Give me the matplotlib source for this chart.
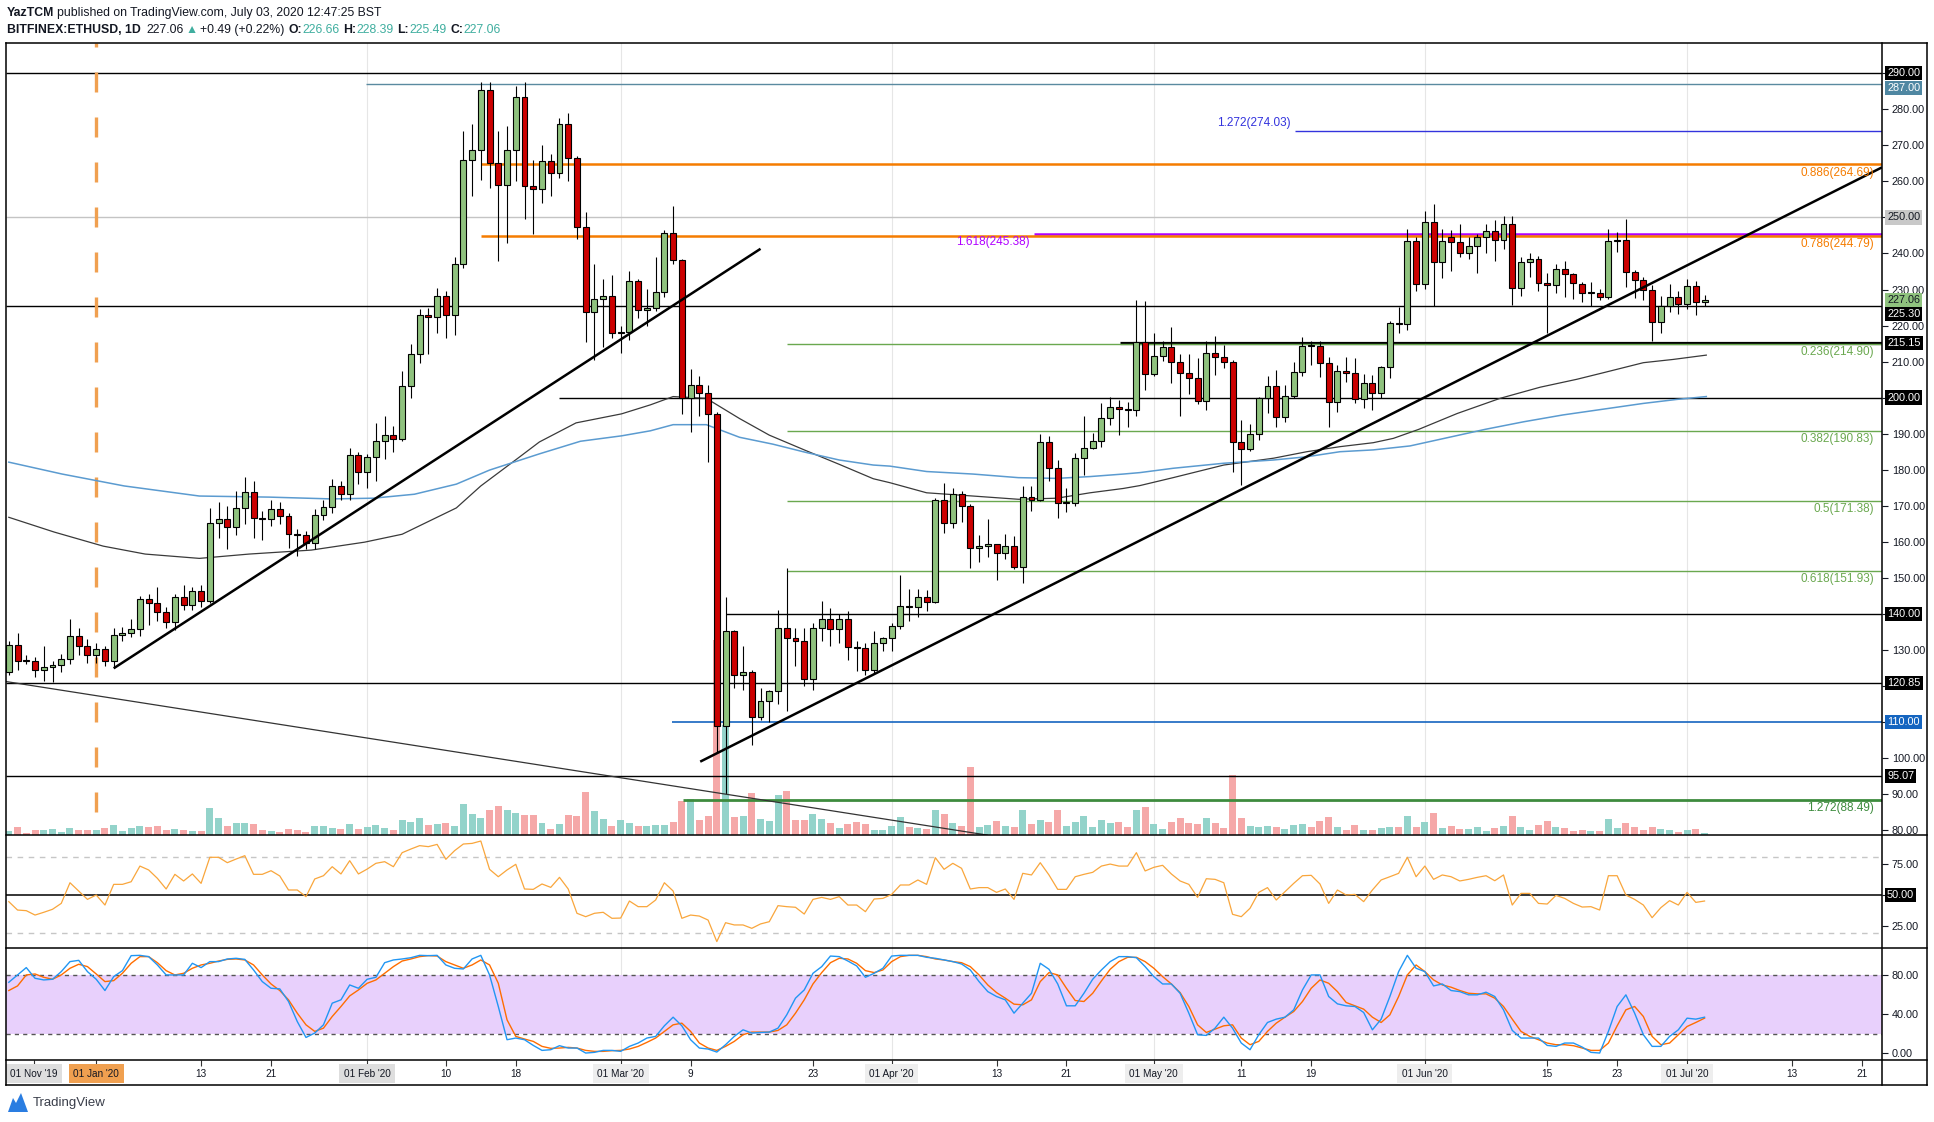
import matplotlib
matplotlib.use('Agg')
import matplotlib.pyplot as plt
from matplotlib.transforms import blended_transform_factory as blend
from matplotlib.lines import Line2D
from matplotlib.patches import Polygon
import numpy as np
import pandas as pd

SANS = ['Liberation Sans', 'DejaVu Sans']
plt.rcParams['font.family'] = SANS

# ---------------------------------------------------------------- data
dates = pd.date_range('2019-12-22', '2020-07-03', freq='D')

opens = [
    124, 131.5, 127, 126.9, 124.3, 125.2, 125.8, 127.5, 133.9, 131.1,
    128.5, 130.2, 126.8, 134.2, 134.6, 135.8, 144.2, 143.1, 140.6, 137.7,
    144.7, 142.4, 146.4, 143.5, 165.2, 166.3, 164.2, 169.4, 173.9, 166.7,
    166.3, 169.2, 167.1, 162.1, 161.9, 159.6, 167.4, 169.7, 175.5, 173.2, 184.1,
    179.4, 183.6, 188, 189.7, 188.6, 203.3, 212.2, 223, 222.3, 228.3,
    223, 237.2, 265.8, 268.6, 285.4, 265, 259.1, 268.6, 283.4, 258.7,
    257.8, 265.6, 262.2, 275.8, 266.4, 247.4, 223.9, 227.4, 228.3,
    218, 218.3, 232.5, 224.3, 225, 229.2, 245.7, 238.2, 200, 203.5,
    201.2, 195.4, 108.9, 135.3, 123.1, 124, 111.3, 115.9, 118.5, 136.2,
    133.2, 132.6, 122, 136.2, 138.5, 135.8, 138.5, 130.9, 130.6, 124.5, 131.8,
    133.2, 136.7, 142.1, 142, 144.8, 143.2, 171.6, 165.1, 173.2, 170,
    158.2, 158.7, 159.3, 156.8, 158.7, 153.1, 172.5, 171.6, 187.8, 180.6,
    170.8, 170.9, 183.2, 186, 188, 194.3, 197.5, 196.8, 196.6, 215.5,
    206.5, 211.6, 214, 209.8, 206.8, 205.4, 199.1, 212.3, 211.4, 210,
    187.8, 185.7, 189.8, 199.8, 203.3, 194.5, 200.4, 207, 214.4, 214.3,
    209.6, 198.7, 207.5, 206.8, 199.5, 204, 201.2, 208.6, 220.6, 220.5, 243.5,
    231.4, 248.6, 237.5, 244.5, 243.3, 240, 242, 244.7, 246.3, 243.7,
    248.3, 230.3, 237.5, 238.4, 231.7, 231.2, 235.6, 234.2, 231.5, 228.9,
    229.1, 227.8, 243.5, 243.7, 234.8, 232.6, 229.9, 221.1, 225.3, 228,
    225.9, 231.1, 226.66]

highs = [
    132.5, 134.6, 128.5, 128, 131, 127, 129, 138.7, 136, 133,
    132, 131, 136, 136.5, 138.5, 145, 145.5, 147.5, 142, 145.5,
    148, 147.5, 148, 169.5, 171, 170, 174, 178, 177, 168.5,
    171.5, 171, 168, 163.5, 163, 169, 171.5, 177.5, 177, 186, 185,
    184.5, 193, 195, 192, 207.5, 215, 224.5, 225, 230.5, 229.5,
    239, 274, 276, 287.5, 287.5, 274, 275.5, 286.5, 287.5, 266,
    270, 267.5, 277.5, 279, 267, 251.5, 237, 233, 234,
    220, 235, 233, 230.2, 239.1, 246.5, 253.2, 238.5, 208, 206,
    203.5, 196, 144.8, 135.5, 131, 124.5, 119.5, 119, 141, 152.6,
    136, 136, 137.5, 143.5, 141.5, 140, 140.7, 132.5, 131.8, 135.3, 133.5,
    137.4, 150.7, 146.9, 146.8, 146.6, 172.2, 176.2, 174.8, 174.1, 170.5,
    161.8, 166.3, 159.5, 162.1, 161.7, 175.4, 175.4, 190, 189.3, 182.6,
    174.9, 184.7, 194.9, 190.3, 198.4, 200.3, 199.3, 198.7, 227, 226.7,
    218, 215.6, 219.6, 212, 212, 210.9, 215.8, 217, 214.6, 210.5,
    193.7, 192.7, 200.2, 206.1, 207.7, 203.6, 209.9, 216.8, 215.6, 215.6,
    211.4, 209.1, 211.2, 211.1, 206.6, 206.3, 208.8, 221.4, 225.1, 246.9, 244.5,
    251.7, 253.7, 246.9, 246.4, 248.3, 244.5, 245.4, 248.3, 249.3, 250.4,
    250.4, 238.9, 240.1, 239.4, 234.6, 237.1, 237.9, 234.7, 232.2, 232,
    230.2, 246.9, 245.9, 249.5, 235.5, 233.5, 231.2, 228.2, 231.4, 229.7,
    233, 232.3, 228.39]

lows = [
    123, 124.5, 126, 122.5, 121.5, 121, 124, 126, 128.5, 126.5,
    126.5, 125.5, 125, 132.5, 133.5, 134, 137, 138, 136, 135.5,
    141, 141, 142, 143, 161, 158, 162, 165, 161, 160.5,
    164.5, 165, 158.2, 156, 158, 158, 166, 168, 171.5, 171.5, 176,
    175, 177, 183, 185, 188, 200, 209.5, 212, 218, 216.5,
    217.5, 236, 256, 260.5, 258.3, 237.8, 243, 260, 249.5, 245.5,
    254, 256, 261, 260, 244, 215.5, 210.5, 214, 216.5,
    212.5, 216, 222, 220, 224, 227.8, 237.2, 195.5, 190.4, 195,
    182.2, 101.7, 90, 119.5, 119, 103.5, 110.5, 110, 115, 113,
    125.6, 120, 119, 132.4, 131.2, 132, 127.2, 124.2, 123, 123.4, 129.7,
    129.7, 135.9, 138.1, 139.2, 140.8, 143, 162.5, 163.8, 165.4, 152.8,
    154.5, 155.8, 149.5, 155.3, 152.5, 148.7, 168.6, 171.2, 177, 166.7,
    168.3, 169.8, 178.6, 185.8, 186.4, 192.4, 189.5, 191.9, 195, 202.2,
    206, 210.3, 204.2, 195, 201, 198.2, 196.7, 206.4, 208.3, 179.4,
    175.9, 185.2, 188.3, 195.8, 191.8, 193.3, 199.9, 206, 209.1, 205.8,
    191.8, 196.1, 204.3, 198.6, 197.2, 196.5, 200, 205.5, 217.9, 218.7, 229.7,
    230.2, 225.3, 233.2, 235.1, 238.9, 238.6, 234.6, 240.1, 237.9, 241.3,
    225.8, 228.3, 233.6, 229.7, 217.8, 228.9, 227.9, 227.4, 226.4, 225.3,
    227, 227.3, 240.3, 230.8, 227.6, 227.2, 215.8, 217.8, 223.8, 223.2,
    224.7, 222.8, 225.49]

closes = [
    131.5, 127, 126.9, 124.3, 125.2, 125.8, 127.5, 133.9, 131.1, 128.5,
    130.2, 126.8, 134.2, 134.6, 135.8, 144.2, 143.1, 140.6, 137.7, 144.7,
    142.4, 146.4, 143.5, 165.2, 166.3, 164.2, 169.4, 173.9, 166.7, 166.3,
    169.2, 167.1, 162.1, 161.9, 159.6, 167.4, 169.7, 175.5, 173.2, 184.1, 179.4,
    183.6, 188, 189.7, 188.6, 203.3, 212.2, 223, 222.3, 228.3, 223,
    237.2, 265.8, 268.6, 285.4, 265, 259.1, 268.6, 283.4, 258.7, 257.8,
    265.6, 262.2, 275.8, 266.4, 247.4, 223.9, 227.4, 228.3, 218,
    218.3, 232.5, 224.3, 225, 229.2, 245.7, 238.2, 200, 203.5, 201.2,
    195.4, 108.9, 135.3, 123.1, 124, 111.3, 115.9, 118.5, 136.2, 133.2,
    132.6, 122, 136.2, 138.5, 135.8, 138.5, 130.9, 130.6, 124.5, 131.8, 133.2,
    136.7, 142.1, 142, 144.8, 143.2, 171.6, 165.1, 173.2, 170, 158.2,
    158.7, 159.3, 156.8, 158.7, 153.1, 172.5, 171.6, 187.8, 180.6, 170.8,
    170.9, 183.2, 186, 188, 194.3, 197.5, 196.8, 196.6, 215.5, 206.5,
    211.6, 214, 209.8, 206.8, 205.4, 199.1, 212.3, 211.4, 210, 187.8,
    185.7, 189.8, 199.8, 203.3, 194.5, 200.4, 207, 214.4, 214.3, 209.6,
    198.7, 207.5, 206.8, 199.5, 204, 201.2, 208.6, 220.6, 220.5, 243.5, 231.4,
    248.6, 237.5, 243.5, 243.3, 240, 242, 244.7, 246.3, 243.7, 248.3,
    230.3, 237.5, 238.4, 231.7, 231.2, 235.6, 234.2, 231.7, 228.9, 229.1,
    227.8, 243.5, 243.7, 234.8, 232.6, 229.9, 221.1, 225.3, 228, 225.9,
    231.1, 226.66, 227.06]

volumes = [
    4, 8, 2, 5, 5, 6, 3, 7, 5, 5,
    5, 7, 10, 4, 7, 9, 8, 9, 5, 6,
    5, 4, 4, 27, 17, 9, 12, 12, 11, 5,
    4, 3, 6, 5, 3, 9, 9, 7, 6, 11,
    6, 8, 10, 7, 5, 15, 13, 17, 10, 11,
    12, 9, 31, 21, 17, 25, 29, 25, 22, 20,
    20, 12, 6, 11, 20, 19, 43, 24, 16, 9,
    15, 12, 9, 9, 10, 10, 13, 34, 36, 15,
    19, 195, 110, 18, 19, 42, 16, 14, 40, 44,
    15, 15, 21, 16, 12, 7, 11, 13, 11, 5,
    5, 9, 18, 8, 7, 6, 25,
    21, 12, 9, 68, 8, 10, 14, 9, 8, 25,
    11, 15, 13, 25, 9, 13, 19, 8, 15, 12,
    13, 8, 25, 28, 11, 6, 13, 17, 12, 11,
    17, 12, 7, 60, 17, 9, 8, 9, 8, 6,
    10, 11, 8, 14, 18, 8, 5, 10, 5, 5,
    7, 8, 8, 19, 8, 13, 22, 7, 9, 6,
    6, 8, 4, 7, 9, 19, 8, 5, 10, 14,
    8, 7, 4, 5, 4, 4, 16, 7, 12, 8,
    5, 8, 6, 5, 3, 5, 6, 2]

rsi_values = [
    44.7, 38.0, 37.5, 34.0, 36.2, 38.6, 43.3, 59.8, 53.2, 46.5,
    50.0, 42.0, 58.5, 58.5, 60.6, 73.1, 70.0, 63.3, 54.8, 66.5,
    61.2, 66.8, 59.3, 80.1, 80.1, 75.8, 78.7, 81.4, 66.5, 66.5,
    69.4, 65.2, 54.0, 54.0, 48.7, 62.8, 65.4, 72.6, 66.8, 77.4,
    66.8, 70.7, 75.3, 76.6, 72.6, 83.8, 86.7, 89.4, 88.6, 90.4,
    78.5, 85.4, 90.7, 91.2, 93.1, 70.5, 64.6, 70.0, 74.5, 54.8,
    54.5, 58.8, 56.1, 64.1, 54.8, 35.4, 32.7, 35.4, 36.2, 31.4,
    31.6, 45.2, 40.7, 40.7, 46.0, 59.8, 53.2, 31.4, 34.0, 33.2,
    30.0, 12.8, 27.9, 26.1, 26.1, 23.4, 26.9, 28.7, 41.5, 40.7,
    40.2, 34.8, 46.5, 48.1, 46.5, 48.7, 42.0, 42.0, 36.7, 46.8,
    47.3, 50.5, 58.0, 58.0, 62.0, 58.5, 79.8,
    70.5, 75.3, 71.3, 54.8, 55.9, 55.9, 52.1, 54.8, 46.5, 67.3,
    66.0, 75.8, 66.0, 54.5, 54.5, 64.6, 66.5, 68.1, 73.1, 74.7,
    73.1, 73.1, 83.8, 69.2, 72.1, 73.7, 66.8, 61.2, 58.5, 48.1,
    63.0, 62.5, 59.8, 34.6, 32.7, 39.4, 52.1, 55.9, 46.0, 52.7,
    59.3, 65.4, 65.7, 58.8, 43.3, 54.0, 50.0, 50.5, 44.7, 54.0,
    62.0, 64.6, 67.3, 80.1, 64.6, 73.1, 62.5, 66.0, 64.6, 61.2,
    62.5, 64.1, 65.4, 61.4, 66.0, 42.0, 51.3, 51.3, 43.3, 42.8,
    49.7, 47.3, 43.3, 40.4, 40.7, 38.0, 65.4, 65.4, 50.0, 46.5,
    42.0, 31.9, 39.9, 45.5, 42.0, 52.1, 44.1, 45.2]

stoch_k = [
    72.5, 80.0, 87.5, 76.6, 74.9, 75.6, 83.4, 93.6, 94.9, 83.4,
    75.6, 64.1, 78.3, 84.4, 99.7, 100, 98.7, 90.2, 80.0, 80.0,
    80.0, 91.9, 87.5, 93.6, 93.6, 96.3, 97.0, 95.9, 85.1, 73.2,
    66.4, 65.8, 52.9, 32.5, 16.2, 20.7, 29.1, 51.2, 54.6, 69.8,
    66.4, 75.6, 77.6, 92.5, 95.3, 96.3, 97.6, 100, 99.7, 100,
    90.2, 86.8, 86.1, 96.3, 100, 80.0, 47.8, 13.9, 15.6, 13.9,
    8.1, 3.0, 3.7, 7.8, 5.4, 5.4, 0.3, 1.0, 3.0, 3.0,
    2.0, 7.1, 10.5, 15.6, 17.3, 28.1, 36.9, 28.1, 13.9, 5.4,
    4.4, 1.3, 8.8, 17.3, 24.0, 20.7, 21.3, 21.7, 25.7, 39.3,
    56.3, 64.7, 81.7, 88.5, 99.3, 98.7, 94.2, 89.2, 77.6, 81.7,
    86.8, 99.3, 100, 100, 100, 98.0, 97.0,
    95.3, 93.6, 91.2, 85.1, 73.2, 63.0, 58.0, 54.6, 41.0, 51.2,
    61.3, 91.9, 85.8, 70.8, 48.5, 48.5, 61.3, 75.6, 85.1, 93.6,
    98.7, 98.7, 97.6, 88.5, 78.3, 70.8, 70.8, 61.3, 41.0, 19.0,
    18.3, 25.7, 36.9, 25.7, 10.5, 3.7, 19.0, 31.5, 34.9, 36.9,
    44.4, 64.7, 80.0, 80.0, 58.0, 50.5, 48.5, 47.8, 41.7, 24.0,
    34.9, 58.0, 83.4, 100, 86.8, 83.4, 68.8, 70.8, 64.1, 63.0,
    59.7, 59.7, 62.4, 58.0, 44.4, 23.4, 15.6, 15.6, 15.6, 8.1,
    7.1, 10.5, 10.5, 6.4, 1.0, 0.3, 22.4, 47.8, 59.7, 41.0,
    19.0, 7.1, 7.1, 17.3, 24.0, 35.9, 34.9, 36.9]

stoch_d = [
    64.1, 68.8, 80.0, 81.0, 77.6, 75.6, 80.0, 86.8, 90.9, 88.5,
    81.0, 73.2, 74.2, 81.7, 91.9, 98.7, 98.7, 92.5, 84.4, 80.0,
    81.7, 86.8, 90.2, 91.9, 94.2, 95.9, 96.3, 95.3, 90.2, 80.0,
    70.8, 64.1, 54.6, 41.0, 29.1, 22.4, 25.7, 37.6, 47.8, 58.6,
    64.7, 71.5, 74.9, 81.7, 88.5, 94.2, 96.3, 98.7, 99.7, 99.3,
    93.6, 90.2, 86.8, 90.2, 95.3, 90.2, 71.5, 34.2, 17.3, 14.6,
    12.2, 7.1, 5.1, 5.4, 6.1, 5.4, 3.0, 2.0, 2.0, 2.7,
    3.0, 4.4, 7.1, 11.2, 15.6, 22.4, 29.1, 30.8, 22.4, 10.5,
    5.4, 3.0, 7.1, 12.2, 19.0, 21.7, 21.7, 21.7, 23.4, 29.1,
    41.0, 54.6, 70.8, 82.4, 92.5, 97.0, 96.3, 91.9, 84.4, 82.4,
    85.1, 93.6, 98.7, 100, 100, 98.7, 96.3,
    95.3, 93.6, 92.5, 88.5, 80.0, 69.8, 62.0, 56.3, 50.2, 49.5,
    54.6, 73.2, 82.4, 80.0, 66.4, 53.9, 52.9, 61.3, 73.9, 85.8,
    93.6, 98.0, 98.0, 93.6, 86.8, 78.3, 70.8, 62.0, 47.8, 29.1,
    21.3, 24.7, 28.1, 29.1, 15.6, 8.8, 12.2, 22.4, 30.8, 36.9,
    42.7, 52.9, 66.4, 74.9, 71.5, 63.0, 51.9, 48.5, 45.1, 36.9,
    31.5, 39.3, 58.0, 80.0, 90.2, 83.4, 74.9, 69.8, 67.5, 64.1,
    61.3, 60.7, 60.7, 56.3, 47.8, 34.9, 22.4, 17.3, 13.9, 10.5,
    8.8, 8.8, 7.8, 5.4, 3.0, 3.0, 10.5, 28.1, 44.4, 47.8,
    37.6, 17.3, 8.8, 10.5, 19.0, 27.4, 31.5, 35.9]

ma_black_idx = [0, 5.2, 10.8, 15.6, 21.8, 27.5, 34.6, 40.7, 45.0, 51.2, 54.0, 58.3,
                60.7, 64.9, 70.1, 73.4, 76.0, 79.8, 83.6, 87.0, 91.2, 95.0, 98.9,
                100.8, 105.0, 110.3, 115.5, 119.9, 123.7, 127.5, 129.4, 133.2, 139.0,
                144.7, 148.5, 152.3, 156.1, 158.4, 161.3, 165.7, 170.6, 175.2, 179.4,
                182.4, 187.0, 190.4, 194.2]
ma_black_val = [166.8, 162.7, 158.8, 156.6, 155.4, 156.6, 157.7, 159.9, 162.1, 169.4,
                175.5, 183.3, 187.7, 193.0, 195.5, 198.0, 200.3, 199.8, 194.2, 189.6,
                185.3, 181.5, 177.5, 176.4, 173.6, 172.7, 171.8, 172.1, 173.6, 174.8,
                175.6, 177.8, 181.3, 183.2, 185.0, 186.4, 187.5, 188.7, 191.2, 195.6,
                199.8, 202.9, 205.1, 206.9, 209.7, 210.6, 211.8]
ma_blue_idx = [0, 6.1, 13.2, 21.8, 29.8, 36.9, 41.7, 46.4, 51.2, 55.0, 60.7, 65.4,
               70.1, 73.4, 76.0, 79.8, 83.6, 87.4, 91.2, 95.0, 98.9, 100.8, 105.0,
               110.3, 115.5, 119.9, 123.7, 127.5, 129.4, 133.2, 139.0, 144.7, 148.5,
               152.3, 156.1, 160.3, 168.9, 173.3, 177.8, 182.4, 187.0, 190.8, 194.2]
ma_blue_val = [182.1, 178.8, 175.5, 172.7, 172.4, 171.9, 172.1, 173.2, 176.0, 179.9,
               184.4, 187.9, 189.4, 190.8, 192.5, 192.5, 189.0, 187.1, 184.8, 182.7,
               181.3, 181.0, 179.5, 178.8, 177.8, 177.6, 178.1, 178.8, 179.2, 180.4,
               181.8, 182.7, 183.6, 185.0, 185.5, 186.6, 191.2, 193.3, 195.2, 196.8,
               198.4, 199.5, 200.3]

# horizontal levels: (price, start index or None for full width, colour, width)
levels = [
    (290.0, None, '#000000', 1.0),
    (287.0, 40.9, '#5a8aa0', 1.0),
    (274.03, 147.2, '#3333dd', 1.0),
    (264.69, 54.0, '#f57c00', 1.8),
    (250.0, None, '#c4c4c4', 1.0),
    (245.38, 117.3, '#b000ff', 1.8),
    (244.79, 54.0, '#f57c00', 1.8),
    (225.3, None, '#000000', 1.0),
    (215.15, 127.1, '#000000', 2.3),
    (214.90, 89.0, '#6aa84f', 1.0),
    (200.0, 63.0, '#000000', 1.0),
    (190.83, 89.0, '#6aa84f', 1.0),
    (171.38, 89.0, '#6aa84f', 1.0),
    (151.93, 89.0, '#6aa84f', 1.0),
    (140.0, 82.0, '#000000', 1.0),
    (120.85, None, '#000000', 1.0),
    (110.0, 75.9, '#1565c0', 1.2),
    (95.07, None, '#000000', 1.0),
    (88.49, 77.1, '#3d8b3d', 2.0),
]
fib_right_labels = [("0.886(264.69)", 264.69, '#f57c00'), ("0.786(244.79)", 244.79, '#f57c00'),
                    ("0.236(214.90)", 214.90, '#6aa84f'), ("0.382(190.83)", 190.83, '#6aa84f'),
                    ("0.5(171.38)", 171.38, '#6aa84f'), ("0.618(151.93)", 151.93, '#6aa84f'),
                    ("1.272(88.49)", 88.49, '#3d8b3d')]
trendlines = [((12.0, 124.9), (86.0, 241.3), 1.8, 'black'),
              ((79.1, 99.0), (214.3, 263.9), 1.8, 'black'),
              ((-0.5, 121.3), (112.0, 78.6), 0.9, '#333333')]
price_boxes = [(290.0, "290.00", 'black', 'white'), (285.9, "287.00", '#4f87a2', 'white'),
               (250.0, "250.00", '#c8c8c8', '#131722'), (227.06, "227.06", '#8fc27e', '#131722'),
               (223.3, "225.30", 'black', 'white'), (215.15, "215.15", 'black', 'white'),
               (200.0, "200.00", 'black', 'white'), (140.0, "140.00", 'black', 'white'),
               (120.85, "120.85", 'black', 'white'), (110.0, "110.00", '#1565c0', 'white'),
               (95.07, "95.07", 'black', 'white')]
price_ticks = list(range(80, 291, 10))
boxed_ticks = [290, 250, 200, 140, 120, 110]
time_labels = ["01 Nov '19", "01 Jan '20", "13", "21", "01 Feb '20", "10", "18", "01 Mar '20",
               "9", "23", "01 Apr '20", "13", "21", "01 May '20", "11", "19", "01 Jun '20",
               "15", "23", "01 Jul '20", "13", "21"]
time_pos = [2.9, 10, 22, 30, 41, 50, 58, 70, 78, 92, 101, 113, 121, 131, 141, 149, 162,
            176, 184, 192, 204, 212]
month_lines = [41, 70, 101, 131, 162, 192]

# ---------------------------------------------------------------- figure
W, H = 1934, 1122
fig = plt.figure(figsize=(W / 100, H / 100), dpi=100)
fig.patch.set_facecolor('white')


def px_rect(x0, y0, x1, y1):
    return [x0 / W, 1 - y1 / H, (x1 - x0) / W, (y1 - y0) / H]


L, R = 6, 1882
XL = (-0.32, 214.3)
ax_vol = fig.add_axes(px_rect(L, 43, R, 835))
ax = fig.add_axes(px_rect(L, 43, R, 835))
ax_rsi = fig.add_axes(px_rect(L, 835, R, 948))
ax_st = fig.add_axes(px_rect(L, 948, R, 1060))
ax_t = fig.add_axes(px_rect(L, 1060, R, 1085))

for a in (ax_vol, ax, ax_rsi, ax_st, ax_t):
    a.set_xlim(*XL)
    for s in a.spines.values():
        s.set_visible(False)
    a.set_xticks([])
ax.patch.set_alpha(0)
ax_vol.set_yticks([])

x = np.arange(len(dates))
o = np.array(opens); h = np.array(highs); l = np.array(lows); c = np.array(closes)
up = c >= o
GREEN, RED = '#8fc27e', '#cc0000'

# month grid
for a in (ax_vol, ax_rsi, ax_st):
    for m in month_lines:
        a.axvline(m, color='#e6e6e6', lw=0.8, zorder=0)

# volume
ax_vol.set_ylim(0, 792)
ax_vol.bar(x, volumes, width=0.8, color=np.where(up, '#93d3ca', '#f5a8a8'), linewidth=0, zorder=1)

# price
ax.set_ylim(78.65, 298.4)
for price, start, col, lw in levels:
    x0 = XL[0] if start is None else start
    ax.hlines(price, x0, XL[1], color=col, lw=lw, zorder=2)
ax.plot(ma_black_idx, ma_black_val, color='#3a3a3a', lw=0.9, zorder=2.5)
ax.plot(ma_blue_idx, ma_blue_val, color='#5b9bd0', lw=1.1, zorder=2.5)
ax.plot([10, 10], [85.0, 298.4], color='#f0a050', lw=2.4, ls=(0, (6, 7.5)), zorder=2.4)

ax.vlines(x, l, h, color='black', lw=0.8, zorder=3)
ax.bar(x, np.maximum(np.abs(c - o), 0.3), bottom=np.minimum(o, c), width=0.68,
       color=np.where(up, GREEN, RED), edgecolor='black', linewidth=0.8, zorder=4)

for (x0, y0), (x1, y1), lw, col in trendlines:
    ax.plot([x0, x1], [y0, y1], color=col, lw=lw, zorder=5, solid_capstyle='butt')

for txt, val, col in fib_right_labels:
    ax.text(213.4, val - 0.6, txt, color=col, fontsize=8.5, ha='right', va='top', zorder=6)
ax.text(146.7, 274.6, "1.272(274.03)", color='#3333dd', fontsize=8.5, ha='right', va='bottom', zorder=6)
ax.text(116.8, 244.9, "1.618(245.38)", color='#b000ff', fontsize=8.5, ha='right', va='top', zorder=6)

TICKFS = 7.8
ax.yaxis.tick_right()
ax.set_yticks(price_ticks)
ax.set_yticklabels(["" if v in boxed_ticks else f"{v:.2f}" for v in price_ticks])


def style_right(a):
    a.tick_params(axis='y', which='both', direction='out', length=4, width=0.8,
                  labelsize=TICKFS, pad=3, colors='#131722', right=True, left=False,
                  labelright=True, labelleft=False)


style_right(ax)


def right_box(a, yval, text, fc, tc):
    tr = blend(a.transAxes, a.transData)
    a.text(1.0 + 5 / 1876, yval, text, transform=tr, ha='left', va='center', fontsize=TICKFS,
           color=tc, bbox=dict(boxstyle='square,pad=0.2', fc=fc, ec='none'),
           clip_on=False, zorder=20)


for yv, txt, fc, tc in price_boxes:
    right_box(ax, yv, txt, fc, tc)

# RSI
ax_rsi.set_ylim(7.7, 97.9)
ax_rsi.plot(np.arange(len(rsi_values)), rsi_values, color='#f9a63c', lw=0.9, zorder=3)
ax_rsi.axhline(50, color='black', lw=1.1, zorder=2)
for lv in (80, 20):
    ax_rsi.axhline(lv, color='#c6c6c6', lw=1.0, ls=(0, (4, 4)), zorder=1)
ax_rsi.yaxis.tick_right()
ax_rsi.set_yticks([25, 50, 75])
ax_rsi.set_yticklabels(["25.00", "", "75.00"])
style_right(ax_rsi)
right_box(ax_rsi, 50, "50.00", 'black', 'white')

# Stoch RSI
ax_st.set_ylim(-6.8, 107.5)
ax_st.axhspan(20, 80, color='#e8d0fc', lw=0, zorder=0.5)
for lv in (80, 20):
    ax_st.axhline(lv, color='#555555', lw=1.0, ls=(0, (3, 3)), zorder=1)
ax_st.plot(np.arange(len(stoch_d)), stoch_d, color='#ff6d00', lw=1.0, zorder=3)
ax_st.plot(np.arange(len(stoch_k)), stoch_k, color='#2196f3', lw=1.0, zorder=4)
ax_st.yaxis.tick_right()
ax_st.set_yticks([0, 40, 80])
ax_st.set_yticklabels(["0.00", "40.00", "80.00"])
style_right(ax_st)

# time axis
ax_t.set_ylim(0, 1)
ax_t.set_yticks([])
ax_t.set_xticks(time_pos)
ax_t.tick_params(axis='x', top=True, bottom=False, direction='in', length=4, width=0.8,
                 labelbottom=False, labeltop=False, color='#333333')
trt = blend(ax_t.transData, ax_t.transAxes)
for pos, lab in zip(time_pos, time_labels):
    kw = {}
    if "'" in lab:
        if lab.startswith("01 Jan"):
            fc = '#f0a050'
        elif lab.startswith("01 Nov") or lab.startswith("01 Feb"):
            fc = '#dedede'
        else:
            fc = '#eeeeee'
        kw['bbox'] = dict(boxstyle='square,pad=0.45', fc=fc, ec='none')
    ax_t.text(pos, 0.45, lab, transform=trt, ha='center', va='center', fontsize=7.2,
              color='#131722', zorder=5, **kw)


# frame lines
def fline(xs, ys, lw=1.1, col='black'):
    fig.add_artist(Line2D([v / W for v in xs], [1 - v / H for v in ys], transform=fig.transFigure,
                          color=col, lw=lw, zorder=30))


for yy in (43, 835, 948, 1060, 1085):
    fline([L, 1927], [yy, yy])
for xx in (L, R, 1927):
    fline([xx, xx], [43, 1085])

# header
renderer = fig.canvas.get_renderer()
DARK, TEAL = '#131722', '#3fae9f'


def write_pieces(x_px, y_px, pieces, size):
    xx = x_px
    for txt, col, wt, gap in pieces:
        t = fig.text(xx / W, 1 - y_px / H, txt, color=col, fontsize=size, fontweight=wt,
                     ha='left', va='center', family=SANS)
        bb = t.get_window_extent(renderer=renderer)
        xx += bb.width + gap


write_pieces(7, 13, [("YazTCM", DARK, 'bold', 3),
                     ("published on TradingView.com, July 03, 2020 12:47:25 BST", DARK, 'normal', 0)], 8.8)
write_pieces(7, 30, [("BITFINEX:ETHUSD, 1D", DARK, 'bold', 6),
                     ("227.06", DARK, 'normal', 2),
                     ("\u25B2", TEAL, 'normal', 2),
                     ("+0.49 (+0.22%)", DARK, 'normal', 4),
                     ("O:", DARK, 'bold', 0), ("226.66", TEAL, 'normal', 4),
                     ("H:", DARK, 'bold', 0), ("228.39", TEAL, 'normal', 4),
                     ("L:", DARK, 'bold', 0), ("225.49", TEAL, 'normal', 4),
                     ("C:", DARK, 'bold', 0), ("227.06", TEAL, 'normal', 0)], 8.8)

# footer
logo = [(8, 1112), (13, 1098), (16, 1103), (21, 1093), (28, 1112)]
fig.add_artist(Polygon([(px / W, 1 - py / H) for px, py in logo], closed=True,
                       transform=fig.transFigure, fc='#2a7de1', ec='none'))
fig.text(33 / W, 1 - 1103 / H, "TradingView", fontsize=9.5, color='#3a3e4a', ha='left', va='center')

fig.savefig('out.png', dpi=100, facecolor='white')
